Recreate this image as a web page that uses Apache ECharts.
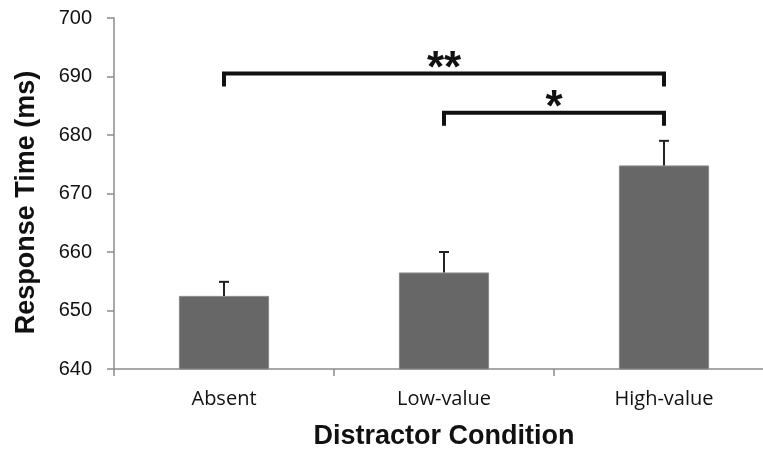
<!DOCTYPE html>
<html>
<head>
<meta charset="utf-8">
<script src="https://cdn.jsdelivr.net/npm/echarts@6/dist/echarts.min.js"></script>
<style>
  html, body { margin: 0; padding: 0; background: #fff; }
  #chart { width: 763px; height: 451px; }
</style>
</head>
<body>
<div id="chart"></div>
<script>
// data
const categories = ['Absent', 'Low-value', 'High-value'];
const meanRT = [652.5, 656.5, 674.8];
const semRT = [2.4, 3.5, 4.2];

// significance brackets (category index from/to, height in ms)
const bracketFrom = [0, 1];
const bracketTo = [2, 2];
const bracketLevel = [690.5, 683.8];
const bracketMarks = ['**', '*'];

const yTicks = [640, 650, 660, 670, 680, 690, 700];

const chart = echarts.init(document.getElementById('chart'));

// error bar: upward only, with cap
const errorData = categories.map((c, i) => [i, meanRT[i], meanRT[i] + semRT[i]]);
const bracketData = bracketFrom.map((f, i) => [f, bracketTo[i], bracketLevel[i], bracketMarks[i]]);

const option = {
    animation: false,
    backgroundColor: '#fff',
    // the x axis runs past the right edge of the picture
    grid: { left: 114, width: 660, top: 18, height: 351, outerBoundsMode: 'none' },
    xAxis: {
        type: 'category',
        data: categories,
        name: 'Distractor Condition',
        nameLocation: 'middle',
        nameGap: 54,
        nameTextStyle: { fontFamily: 'Liberation Sans', fontWeight: 'bold', fontSize: 27, color: '#111' },
        axisLine: { lineStyle: { color: '#8c8c8c', width: 1.5 } },
        axisTick: { show: true, length: 7, lineStyle: { color: '#8c8c8c', width: 1.5 } },
        axisLabel: { fontFamily: 'Open Sans', fontSize: 20, color: '#111', margin: 20 }
    },
    yAxis: {
        type: 'value',
        min: 640,
        max: 700,
        interval: 10,
        name: 'Response Time (ms)',
        nameLocation: 'middle',
        nameGap: 74,
        nameTextStyle: {
            fontFamily: 'Liberation Sans', fontWeight: 'bold', fontSize: 27, color: '#111',
            padding: [0, 18, 0, 0]
        },
        axisLine: { show: true, lineStyle: { color: '#8c8c8c', width: 1.5 } },
        axisTick: { show: true, length: 7, lineStyle: { color: '#8c8c8c', width: 1.5 } },
        axisLabel: {
            fontFamily: 'Liberation Sans', fontSize: 20, color: '#111', margin: 22,
            formatter: v => yTicks.indexOf(v) >= 0 ? String(v) : ''
        },
        splitLine: { show: false }
    },
    series: [
        {
            type: 'bar',
            data: meanRT,
            barWidth: '41%',
            itemStyle: { color: '#676767', borderColor: '#8a8a8a', borderWidth: 1 },
            z: 2
        },
        {
            type: 'custom',
            data: errorData,
            z: 3,
            renderItem: (params, api) => {
                const lo = api.coord([api.value(0), api.value(1)]);
                const hi = api.coord([api.value(0), api.value(2)]);
                const cap = 5;
                const style = { stroke: '#222', lineWidth: 2 };
                return {
                    type: 'group',
                    children: [
                        { type: 'line', shape: { x1: lo[0], y1: lo[1], x2: hi[0], y2: hi[1] }, style },
                        { type: 'line', shape: { x1: hi[0] - cap, y1: hi[1], x2: hi[0] + cap, y2: hi[1] }, style }
                    ]
                };
            }
        },
        {
            type: 'custom',
            data: bracketData,
            z: 4,
            renderItem: (params, api) => {
                const a = api.coord([api.value(0), api.value(2)]);
                const b = api.coord([api.value(1), api.value(2)]);
                const drop = 13;
                const mark = bracketMarks[params.dataIndex];
                return {
                    type: 'group',
                    children: [
                        {
                            type: 'polyline',
                            shape: { points: [[a[0], a[1] + drop], [a[0], a[1]], [b[0], b[1]], [b[0], b[1] + drop]] },
                            style: { stroke: '#111', lineWidth: 4, fill: null }
                        },
                        {
                            type: 'text',
                            x: (a[0] + b[0]) / 2,
                            y: a[1] - 4,
                            style: {
                                text: mark,
                                fontFamily: 'Liberation Sans',
                                fontWeight: 'bold',
                                fontSize: 44,
                                fill: '#111',
                                align: 'center',
                                verticalAlign: 'middle'
                            }
                        }
                    ]
                };
            }
        }
    ]
};

chart.setOption(option);
</script>
</body>
</html>
